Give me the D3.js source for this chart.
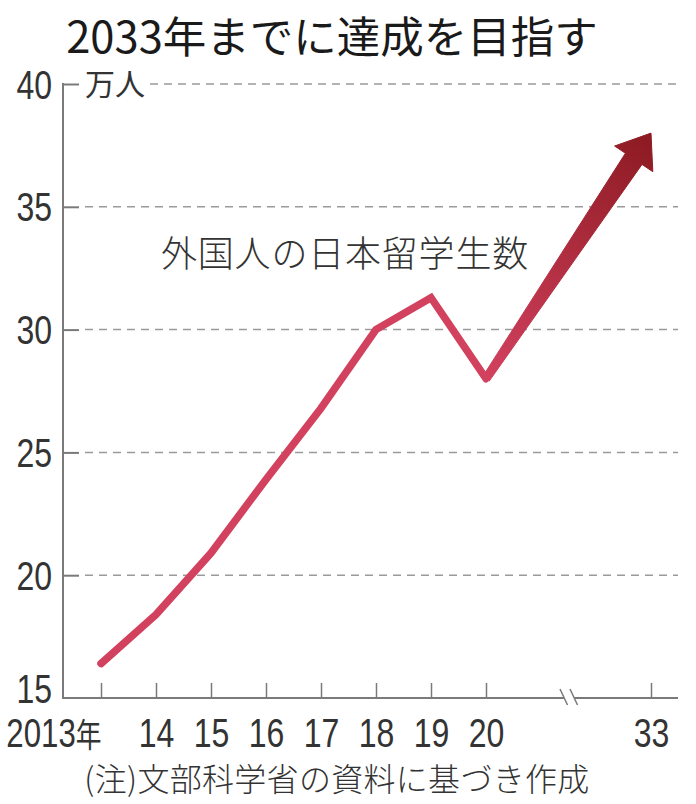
<!DOCTYPE html>
<html>
<head>
<meta charset="utf-8">
<script src="https://cdn.jsdelivr.net/npm/d3@7"></script>
<style>
  body { margin: 0; background: #fff; }
  svg { display: block; }
  .cjk { font-family: "Noto Sans CJK JP", sans-serif; }
  .num { font-family: "Liberation Sans", Arial, sans-serif; }
</style>
</head>
<body>
<svg id="chart"></svg>
<script>
// data (万人)
const years = [2013, 2014, 2015, 2016, 2017, 2018, 2019, 2020];
const students = [16.4, 18.4, 20.9, 23.9, 26.8, 30.0, 31.3, 28.0];
const goalYear = 2033;
const goalValue = 38;
const yTicks = [15, 20, 25, 30, 35, 40];
const xTicks = [2013, 2014, 2015, 2016, 2017, 2018, 2019, 2020, 2033];

const width = 696, height = 804;
const margin = {top: 84, right: 18, bottom: 106, left: 63};

const svg = d3.select('#chart')
    .attr('width', width)
    .attr('height', height);

const plotBottom = height - margin.bottom;
const plotRight = width - margin.right;

// piecewise x scale: 2013-2020 evenly, then a broken gap to 2033
const x = d3.scaleLinear()
    .domain([2013, 2020, 2033])
    .range([101, 486, 651]);

const y = d3.scaleLinear()
    .domain([15, 40])
    .range([plotBottom, margin.top]);

// title
svg.append('text')
    .attr('class', 'cjk')
    .attr('x', 332)
    .attr('y', 53)
    .attr('text-anchor', 'middle')
    .attr('font-size', 43.5)
    .attr('fill', '#1a1a1a')
    .text('2033年までに達成を目指す');

// grid lines (dashed)
svg.append('g')
    .selectAll('line')
    .data(yTicks.filter(d => d > 15))
    .join('line')
    .attr('x1', d => d === 40 ? 150 : 85)
    .attr('x2', plotRight)
    .attr('y1', d => y(d))
    .attr('y2', d => y(d))
    .attr('stroke', '#9a9a9a')
    .attr('stroke-width', 1.5)
    .attr('stroke-dasharray', '8,6');

// y axis
const yAxisG = svg.append('g')
    .attr('transform', `translate(${margin.left},0)`)
    .call(d3.axisLeft(y).tickValues(yTicks).tickSize(-16).tickPadding(11));
yAxisG.select('.domain').remove();
yAxisG.selectAll('.tick line')
    .attr('stroke', '#7a7a7a')
    .attr('stroke-width', 2)
    .filter(d => d === 15).remove();
yAxisG.selectAll('.tick text')
    .attr('class', 'num')
    .attr('x', 0)
    .attr('dy', null)
    .attr('font-size', 40)
    .attr('fill', '#333')
    .attr('transform', d => `translate(-11,${d === 15 ? 4 : 14}) scale(0.8,1)`);

svg.append('line')
    .attr('x1', margin.left).attr('x2', margin.left)
    .attr('y1', y(40) - 1).attr('y2', plotBottom)
    .attr('stroke', '#7a7a7a').attr('stroke-width', 2);

// unit
svg.append('text')
    .attr('class', 'cjk')
    .attr('x', 85)
    .attr('y', 95)
    .attr('font-size', 30)
    .attr('fill', '#333')
    .text('万人');

// x axis
const xAxisG = svg.append('g')
    .attr('transform', `translate(0,${plotBottom})`)
    .call(d3.axisBottom(x).tickValues(xTicks).tickSize(-15).tickSizeOuter(0)
        .tickFormat(d => d === 2013 ? '2013年' : String(d).slice(2)));
xAxisG.select('.domain').remove();
xAxisG.selectAll('.tick line')
    .attr('stroke', '#7a7a7a')
    .attr('stroke-width', 1.5);
xAxisG.selectAll('.tick text')
    .attr('class', 'num')
    .attr('y', 0)
    .attr('dy', null)
    .attr('font-size', 40)
    .attr('fill', '#333')
    .attr('text-anchor', d => d === 2013 ? 'end' : 'middle')
    .attr('transform', d => `translate(${d === 2013 ? 0 : 0},49) scale(${d === 2013 ? 0.78 : 0.8},1)`);

svg.append('line')
    .attr('x1', margin.left - 1).attr('x2', plotRight)
    .attr('y1', plotBottom).attr('y2', plotBottom)
    .attr('stroke', '#7a7a7a').attr('stroke-width', 2);

// 年 in the 2013 label uses the CJK font
xAxisG.selectAll('.tick text').filter(d => d === 2013)
    .text(null)
    .call(t => {
        t.append('tspan').text('2013');
        t.append('tspan').attr('class', 'cjk').attr('font-size', 33).text('年');
    });

// axis break marks
const bx = (x(2020) + x(goalYear)) / 2;
const brk = svg.append('g').attr('transform', `translate(${bx},${plotBottom})`);
brk.append('path')
    .attr('d', 'M-8.5,-9 L-1.5,7 L9.5,7 L1.5,-9 Z')
    .attr('fill', '#fff');
brk.selectAll('line')
    .data([-8.5, 1.5])
    .join('line')
    .attr('x1', d => d).attr('y1', -9)
    .attr('x2', d => d + 7.5).attr('y2', 7)
    .attr('stroke', '#7a7a7a').attr('stroke-width', 1.5);

// arrow toward the 2033 goal
const p0 = [x(years[years.length - 1]), y(students[students.length - 1])];
const p1 = [x(goalYear), y(goalValue)];
const dx = p1[0] - p0[0], dy = p1[1] - p0[1];
const len = Math.hypot(dx, dy);
const u = [dx / len, dy / len];
const n = [-u[1], u[0]];
const headLen = 31, headHalf = 23, w0 = 4, w1 = 10;
const base = [p1[0] - u[0] * headLen, p1[1] - u[1] * headLen];
const pt = (p, k) => [p[0] + n[0] * k, p[1] + n[1] * k];
const arrowPts = [pt(p0, w0), pt(base, w1), pt(base, headHalf), p1,
    pt(base, -headHalf), pt(base, -w1), pt(p0, -w0)];

const defs = svg.append('defs');
const grad = defs.append('linearGradient')
    .attr('id', 'arrowGrad')
    .attr('gradientUnits', 'userSpaceOnUse')
    .attr('x1', p0[0]).attr('y1', p0[1])
    .attr('x2', p1[0]).attr('y2', p1[1]);
grad.append('stop').attr('offset', 0).attr('stop-color', '#d2415e');
grad.append('stop').attr('offset', 1).attr('stop-color', '#8c1a22');

// series line
const line = d3.line()
    .x((d, i) => x(years[i]))
    .y(d => y(d));

svg.append('path')
    .datum(students)
    .attr('d', line)
    .attr('fill', 'none')
    .attr('stroke', '#d2415e')
    .attr('stroke-width', 7.5)
    .attr('stroke-linejoin', 'miter')
    .attr('stroke-linecap', 'round');

svg.append('path')
    .attr('d', d3.line()(arrowPts) + 'Z')
    .attr('fill', 'url(#arrowGrad)')
    .attr('stroke', 'url(#arrowGrad)')
    .attr('stroke-width', 1)
    .attr('stroke-linejoin', 'miter');

// series label
svg.append('text')
    .attr('class', 'cjk')
    .attr('x', 161)
    .attr('y', 267)
    .attr('font-size', 36)
    .attr('font-weight', 300)
    .attr('letter-spacing', 0.8)
    .attr('fill', '#333')
    .text('外国人の日本留学生数');

// footnote
svg.append('text')
    .attr('class', 'cjk')
    .attr('x', 337)
    .attr('y', 791)
    .attr('text-anchor', 'middle')
    .attr('font-size', 32)
    .attr('font-weight', 300)
    .attr('letter-spacing', 0.3)
    .attr('fill', '#333')
    .text('(注)文部科学省の資料に基づき作成');
</script>
</body>
</html>
